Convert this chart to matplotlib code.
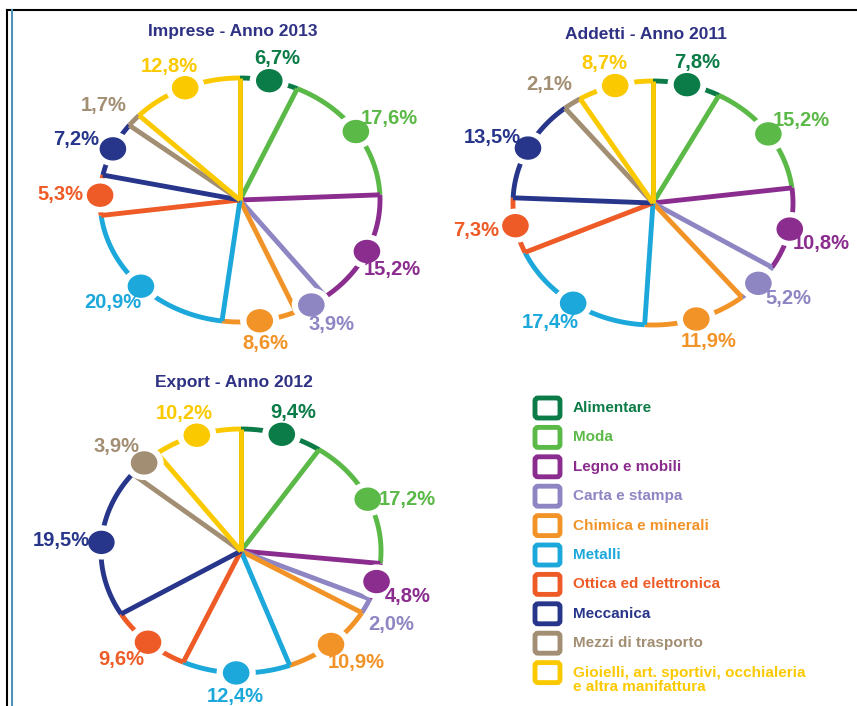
import numpy as np
import matplotlib.pyplot as plt
from matplotlib.patches import Ellipse, FancyBboxPatch

plt.rcParams['font.family'] = ['Liberation Sans', 'DejaVu Sans']

settori = ['Alimentare', 'Moda', 'Legno e mobili', 'Carta e stampa',
           'Chimica e minerali', 'Metalli', 'Ottica ed elettronica',
           'Meccanica', 'Mezzi di trasporto',
           'Gioielli, art. sportivi, occhialeria\ne altra manifattura']
colori = ['#0b7c47', '#5bb947', '#8b2c8f', '#8d86c3', '#f29327',
          '#1ca8da', '#ee5b27', '#27358a', '#a28e72', '#fbc900']

imprese_2013 = [6.7, 17.6, 15.2, 3.9, 8.6, 20.9, 5.3, 7.2, 1.7, 12.8]
addetti_2011 = [7.8, 15.2, 10.8, 5.2, 11.9, 17.4, 7.3, 13.5, 2.1, 8.7]
export_2012 = [9.4, 17.2, 4.8, 2.0, 10.9, 12.4, 9.6, 19.5, 3.9, 10.2]

titoli = ['Imprese - Anno 2013', 'Addetti - Anno 2011', 'Export - Anno 2012']

W, H = 857, 706
navy = '#2e3184'
lw = 3.5


def torta(ax, valori, titolo):
    ax.set_xlim(-1.6, 1.6)
    ax.set_ylim(-1.6, 1.6)
    ax.axis('off')
    bordi = np.concatenate([[0], np.cumsum(valori)]) / sum(valori) * 2 * np.pi
    for i, v in enumerate(valori):
        a0, a1 = bordi[i], bordi[i + 1]
        t = np.linspace(a0, a1, 120)
        ax.plot(np.sin(t), np.cos(t), color=colori[i], lw=lw,
                solid_capstyle='butt', zorder=2 + i)
        ax.plot([0, np.sin(a0)], [0, np.cos(a0)], color=colori[i], lw=lw,
                solid_capstyle='butt', zorder=2 + i)
        m = (a0 + a1) / 2
        x, y = np.sin(m), np.cos(m)
        if v >= 3:
            ax.add_patch(Ellipse((x, y), 0.27, 0.27, color='white', zorder=30))
            ax.add_patch(Ellipse((x, y), 0.18, 0.18, color=colori[i], zorder=31))
        # etichette sul lato destro spostate un po' verso il basso
        mt = m + np.radians(25) if np.radians(60) < m < np.radians(130) else m
        ax.text(x + 0.286 * np.sin(mt), y + 0.19 * np.cos(mt),
                ('%.1f%%' % v).replace('.', ','),
                color=colori[i], fontsize=14.5, fontweight='bold',
                ha='center', va='center', zorder=40)
    # chiusura dell'ultimo spicchio
    ax.plot([0, 0], [0, 1], color=colori[-1], lw=lw, solid_capstyle='butt', zorder=20)
    ax.text(-0.05, 1.38, titolo, color=navy, fontsize=12.5, fontweight='bold',
            ha='center', va='center')


fig = plt.figure(figsize=(W / 100, H / 100), dpi=100)

# cornice e legenda in coordinate pixel
ax0 = fig.add_axes([0, 0, 1, 1])
ax0.set_xlim(0, W)
ax0.set_ylim(H, 0)
ax0.axis('off')
ax0.plot([7, W], [10, 10], color='black', lw=1.5, clip_on=False)
ax0.plot([7, 7], [10, H], color='black', lw=1.5, clip_on=False)
ax0.plot([12, 12], [10, H], color='#4f93b8', lw=1.5, clip_on=False)

for i, (nome, col) in enumerate(zip(settori, colori)):
    yc = 408 + i * 29.4
    ax0.add_patch(FancyBboxPatch((535, yc - 10), 25, 20,
                                 boxstyle='round,pad=0,rounding_size=3',
                                 facecolor='white', edgecolor=col, lw=3.5))
    nl = nome.count('\n')
    ax0.text(573, yc + 7.5 * nl, nome, color=col, fontsize=11, fontweight='bold',
             ha='left', va='center', linespacing=0.95)

rx, ry = 140, 122
centri = [(240, 200), (653, 203), (241, 551)]
for (cx, cy), valori, titolo in zip(centri, [imprese_2013, addetti_2011, export_2012], titoli):
    w, h = 3.2 * rx, 3.2 * ry
    ax = fig.add_axes([(cx - w / 2) / W, (H - cy - h / 2) / H, w / W, h / H])
    ax.patch.set_alpha(0)
    torta(ax, valori, titolo)

plt.savefig('out.png', dpi=100)
